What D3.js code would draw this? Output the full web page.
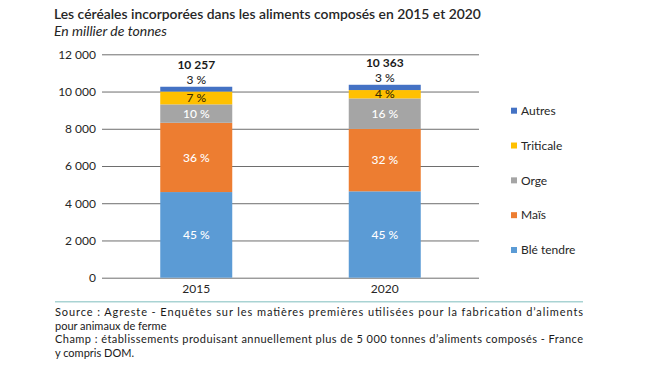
<!DOCTYPE html>
<html><head><meta charset="utf-8">
<script src="https://cdn.jsdelivr.net/npm/d3@7"></script>
<style>body{margin:0;background:#fff}svg{display:block}text{font-family:Lato,"Open Sans",sans-serif}</style>
</head><body><svg id="c" width="650" height="366"></svg>
<script>
const years = ["2015", "2020"];
const totals = [10257, 10363];
const cereals = ["Blé tendre", "Maïs", "Orge", "Triticale", "Autres"];
const ble = [4600, 4640];
const mais = [3720, 3350];
const orge = [990, 1640];
const triticale = [690, 450];
const autres = [257, 283];
const colors = ["#5b9bd5", "#ed7d31", "#a5a5a5", "#ffc000", "#4472c4"];
const yTicks = [0, 2000, 4000, 6000, 8000, 10000, 12000];
const title = "Les céréales incorporées dans les aliments composés en 2015 et 2020";
const subtitle = "En millier de tonnes";
const notes = [
  "Source : Agreste - Enquêtes sur les matières premières utilisées pour la fabrication d’aliments",
  "pour animaux de ferme",
  "Champ : établissements produisant annuellement plus de 5 000 tonnes d’aliments composés - France",
  "y compris DOM."
];

const series = [ble, mais, orge, triticale, autres];
const svg = d3.select("#c");
const fr = d3.formatLocale({decimal: ",", thousands: " ", grouping: [3], currency: ["", " €"]});
const fmt = fr.format(",d");

const x = d3.scalePoint().domain(years).range([102, 479]).padding(0.5);
const y = d3.scaleLinear().domain([0, 12000]).range([277.7, 54.3]);
const bw = 72;

function fit(sel, width) {
  const w = sel.node().getComputedTextLength();
  const fs = parseFloat(sel.attr("font-size"));
  sel.attr("font-size", (fs * width / w).toFixed(2));
}

fit(svg.append("text").attr("x", 54).attr("y", 19).attr("font-size", 14).attr("font-weight", 600)
  .attr("fill", "#262626").text(title), 427);
fit(svg.append("text").attr("x", 54).attr("y", 36).attr("font-size", 13).attr("font-style", "italic")
  .attr("fill", "#262626").text(subtitle), 113);

const yAxis = d3.axisLeft(y).tickValues(yTicks).tickSize(-(479 - 102)).tickFormat(d => fmt(d)).tickPadding(6);
const ga = svg.append("g").attr("transform", "translate(102,0)").call(yAxis);
ga.select(".domain").remove();
ga.selectAll(".tick line").attr("stroke", "#6e6e6e").attr("stroke-width", 1);
ga.selectAll(".tick text").attr("font-size", 12).attr("fill", "#262626").attr("font-family", "Lato,sans-serif");

const stackData = years.map((yr, i) => {
  const o = {year: yr};
  cereals.forEach((c, k) => o[c] = series[k][i]);
  return o;
});
const stacked = d3.stack().keys(cereals)(stackData);

const g = svg.append("g");
stacked.forEach((layer, k) => {
  g.selectAll(null).data(layer).enter().append("rect")
    .attr("x", d => x(d.data.year) - bw / 2)
    .attr("width", bw)
    .attr("y", d => y(d[1]))
    .attr("height", d => y(d[0]) - y(d[1]))
    .attr("fill", colors[k]);
});

stacked.forEach((layer, k) => {
  layer.forEach((d, i) => {
    const pct = Math.round(100 * (d[1] - d[0]) / totals[i]) + " %";
    let ty, fill;
    if (cereals[k] === "Autres") { ty = y(d[1]) - 7; fill = "#262626"; }
    else { ty = (y(d[0]) + y(d[1])) / 2; fill = cereals[k] === "Triticale" ? "#3a2d00" : "#ffffff"; }
    svg.append("text").attr("x", x(d.data.year)).attr("y", ty).attr("dy", "0.35em")
      .attr("text-anchor", "middle").attr("font-size", 12).attr("font-weight", 500).attr("fill", fill).text(pct);
  });
});
years.forEach((yr, i) => {
  svg.append("text").attr("x", x(yr)).attr("y", y(totals[i]) - 22).attr("dy", "0.35em")
    .attr("text-anchor", "middle").attr("font-size", 12).attr("font-weight", 700).attr("fill", "#1a1a1a")
    .text(fmt(totals[i]));
});

years.forEach(yr => {
  svg.append("text").attr("x", x(yr)).attr("y", 288.5).attr("dy", "0.35em").attr("text-anchor", "middle")
    .attr("font-size", 12).attr("fill", "#262626").text(yr);
});

const legY = d3.scalePoint().domain(cereals.slice().reverse()).range([110.7, 250]);
cereals.forEach((c, k) => {
  svg.append("rect").attr("x", 511).attr("y", legY(c) - 3).attr("width", 6).attr("height", 6).attr("fill", colors[k]);
  svg.append("text").attr("x", 521).attr("y", legY(c)).attr("dy", "0.35em").attr("font-size", 12)
    .attr("fill", "#262626").text(c);
});

svg.append("line").attr("x1", 55).attr("x2", 583).attr("y1", 301.7).attr("y2", 301.7)
  .attr("stroke", "#a9d3d3").attr("stroke-width", 1.5);

const noteY = [312.3, 326, 339.3, 352.7];
notes.forEach((t, i) => {
  const s = svg.append("text").attr("x", 55).attr("y", noteY[i]).attr("dy", "0.35em").attr("font-size", 11)
    .attr("fill", "#1a1a1a").text(t);
  if (i === 0 || i === 2) s.attr("textLength", 528).attr("lengthAdjust", "spacing");
});
</script></body></html>
